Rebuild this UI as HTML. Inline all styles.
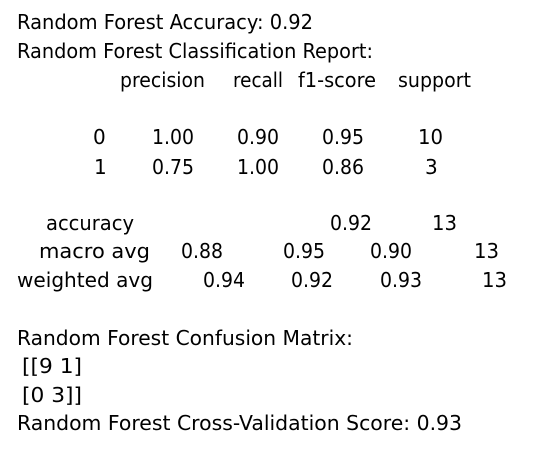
<!DOCTYPE html>
<html><head><meta charset="utf-8"><style>
html,body{margin:0;padding:0;background:#fff;width:546px;height:462px;overflow:hidden}
svg text{font-family:"DejaVu Sans","Liberation Sans",sans-serif;font-size:20px;fill:#000}
</style></head><body>
<svg width="546" height="462">
<rect width="546" height="462" fill="#fff"/>
<text x="17" y="29" textLength="296" lengthAdjust="spacingAndGlyphs">Random Forest Accuracy: 0.92</text>
<text x="17" y="58" textLength="356" lengthAdjust="spacingAndGlyphs">Random Forest Classification Report:</text>
<g>
<text x="120" y="87" textLength="85" lengthAdjust="spacingAndGlyphs">precision</text>
<text x="233" y="87" textLength="50" lengthAdjust="spacingAndGlyphs">recall</text>
<text x="298" y="87" textLength="78" lengthAdjust="spacingAndGlyphs">f1-score</text>
<text x="398" y="87" textLength="73" lengthAdjust="spacingAndGlyphs">support</text>
</g>
<g>
<text x="93" y="144">0</text>
<text x="152" y="144" textLength="42" lengthAdjust="spacingAndGlyphs">1.00</text>
<text x="237" y="144" textLength="42" lengthAdjust="spacingAndGlyphs">0.90</text>
<text x="322" y="144" textLength="42" lengthAdjust="spacingAndGlyphs">0.95</text>
<text x="418" y="144" textLength="25" lengthAdjust="spacingAndGlyphs">10</text>
</g>
<g>
<text x="94" y="174">1</text>
<text x="152" y="174" textLength="42" lengthAdjust="spacingAndGlyphs">0.75</text>
<text x="237" y="174" textLength="42" lengthAdjust="spacingAndGlyphs">1.00</text>
<text x="322" y="174" textLength="42" lengthAdjust="spacingAndGlyphs">0.86</text>
<text x="425" y="174">3</text>
</g>
<g>
<text x="46" y="230" textLength="88" lengthAdjust="spacingAndGlyphs">accuracy</text>
<text x="330" y="230" textLength="42" lengthAdjust="spacingAndGlyphs">0.92</text>
<text x="432" y="230" textLength="25" lengthAdjust="spacingAndGlyphs">13</text>
</g>
<g>
<text x="39" y="258" textLength="111" lengthAdjust="spacingAndGlyphs">macro avg</text>
<text x="181" y="258" textLength="42" lengthAdjust="spacingAndGlyphs">0.88</text>
<text x="283" y="258" textLength="42" lengthAdjust="spacingAndGlyphs">0.95</text>
<text x="370" y="258" textLength="42" lengthAdjust="spacingAndGlyphs">0.90</text>
<text x="474" y="258" textLength="25" lengthAdjust="spacingAndGlyphs">13</text>
</g>
<g>
<text x="17" y="287" textLength="136" lengthAdjust="spacingAndGlyphs">weighted avg</text>
<text x="203" y="287" textLength="42" lengthAdjust="spacingAndGlyphs">0.94</text>
<text x="291" y="287" textLength="42" lengthAdjust="spacingAndGlyphs">0.92</text>
<text x="380" y="287" textLength="42" lengthAdjust="spacingAndGlyphs">0.93</text>
<text x="482" y="287" textLength="25" lengthAdjust="spacingAndGlyphs">13</text>
</g>
<text x="17" y="345" textLength="336" lengthAdjust="spacingAndGlyphs">Random Forest Confusion Matrix:</text>
<text x="22" y="373" textLength="60" lengthAdjust="spacingAndGlyphs">[[9 1]</text>
<text x="22" y="402" textLength="60" lengthAdjust="spacingAndGlyphs">[0 3]]</text>
<text x="17" y="430" textLength="445" lengthAdjust="spacingAndGlyphs">Random Forest Cross-Validation Score: 0.93</text>
</svg>
</body></html>
